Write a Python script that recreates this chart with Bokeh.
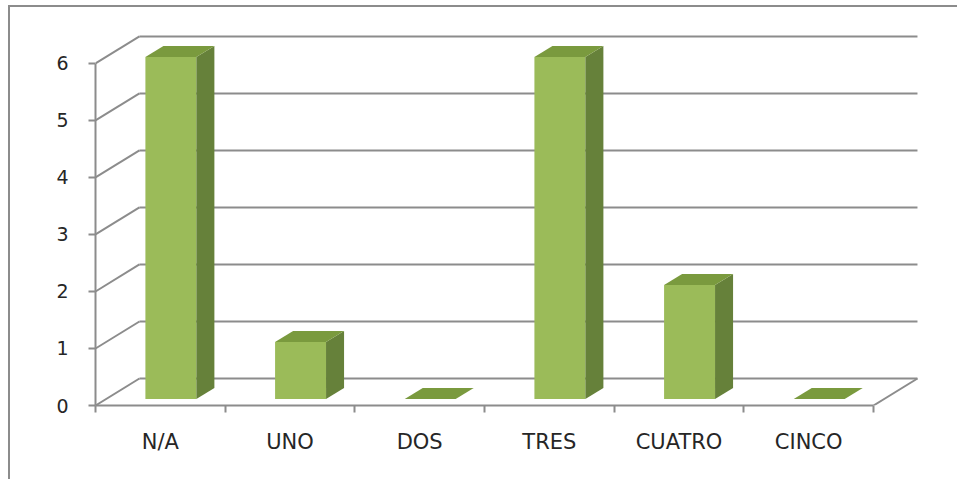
from bokeh.plotting import figure
from bokeh.models import Range1d, LinearAxis, FixedTicker
from bokeh.embed import file_html
from bokeh.resources import INLINE

# ---- data ----
categories = ["N/A", "UNO", "DOS", "TRES", "CUATRO", "CINCO"]
values = [6, 1, 0, 6, 2, 0]
y_ticks = [0, 1, 2, 3, 4, 5, 6]

# ---- style / geometry constants ----
FRONT_C = "#9BBB59"
SIDE_C = "#66813A"
TOP_C = "#7A9A3E"
GRID_C = "#8C8C8C"
TEXT_C = "#262626"

N = len(categories)
X_END = 6.478          # x range end (category units)
Y_END = 6.754          # y range end (value units)
DX = 0.339             # depth offset in x (category units)
DY = 0.474             # depth offset in y (value units)
BAR_W = 0.393          # bar width (category units)
F = 0.24               # bar front position along depth
D = 0.41               # bar depth fraction

p = figure(width=949, height=474,
           x_range=Range1d(0, X_END), y_range=Range1d(0, Y_END),
           x_axis_type=None, y_axis_type=None,
           output_backend="svg", toolbar_location=None,
           min_border_left=85, min_border_right=24,
           min_border_top=13, min_border_bottom=76)
p.outline_line_color = None
p.background_fill_color = "white"
p.border_fill_color = "white"
p.styles = {"border-left": "2px solid #8C8C8C", "border-top": "2px solid #8C8C8C",
            "margin-left": "8px", "margin-top": "5px"}

ymax = max(y_ticks)
# back wall gridlines
p.segment(x0=[DX] * len(y_ticks), y0=[t + DY for t in y_ticks],
          x1=[N + DX] * len(y_ticks), y1=[t + DY for t in y_ticks],
          line_color=GRID_C, line_width=2)
# side-wall diagonals
p.segment(x0=[0] * len(y_ticks), y0=y_ticks,
          x1=[DX] * len(y_ticks), y1=[t + DY for t in y_ticks],
          line_color=GRID_C, line_width=2)
# floor right diagonal
p.segment(x0=[N], y0=[0], x1=[N + DX], y1=[DY], line_color=GRID_C, line_width=2)

# bars
fl, fr, fb, ft = [], [], [], []
side_xs, side_ys, top_xs, top_ys = [], [], [], []
for i, v in enumerate(values):
    c = i + 0.5
    left = c - BAR_W / 2 + F * DX
    right = c + BAR_W / 2 + F * DX
    bottom = F * DY
    top = v + F * DY
    ox, oy = D * DX, D * DY
    fl.append(left); fr.append(right); fb.append(bottom); ft.append(top)
    side_xs.append([right, right + ox, right + ox, right])
    side_ys.append([bottom, bottom + oy, top + oy, top])
    top_xs.append([left, right, right + ox, left + ox])
    top_ys.append([top, top, top + oy, top + oy])

p.quad(left=fl, right=fr, bottom=fb, top=ft, fill_color=FRONT_C, line_color=None)
p.patches(xs=side_xs, ys=side_ys, fill_color=SIDE_C, line_color=None)
p.patches(xs=top_xs, ys=top_ys, fill_color=TOP_C, line_color=None)

# axes
yaxis = LinearAxis(ticker=FixedTicker(ticks=y_ticks, minor_ticks=[]), bounds=(0, ymax),
                   axis_line_color=GRID_C, axis_line_width=2,
                   major_tick_out=7, major_tick_in=0, minor_tick_out=0, minor_tick_in=0,
                   major_tick_line_color=GRID_C, major_tick_line_width=2,
                   major_label_text_font="DejaVu Sans", major_label_text_font_size="19px",
                   major_label_text_color=TEXT_C, major_label_standoff=20)
p.add_layout(yaxis, "left")

centers = [i + 0.5 for i in range(N)]
xaxis = LinearAxis(ticker=FixedTicker(ticks=centers, minor_ticks=list(range(N + 1))),
                   bounds=(0, N),
                   axis_line_color=GRID_C, axis_line_width=2,
                   major_tick_out=0, major_tick_in=0, minor_tick_out=7, minor_tick_in=0,
                   minor_tick_line_color=GRID_C, minor_tick_line_width=2,
                   major_label_overrides={c: name for c, name in zip(centers, categories)},
                   major_label_text_font="DejaVu Sans", major_label_text_font_size="21px",
                   major_label_text_color=TEXT_C, major_label_standoff=17)
p.add_layout(xaxis, "below")

open("out.html", "w").write(file_html(p, INLINE))
